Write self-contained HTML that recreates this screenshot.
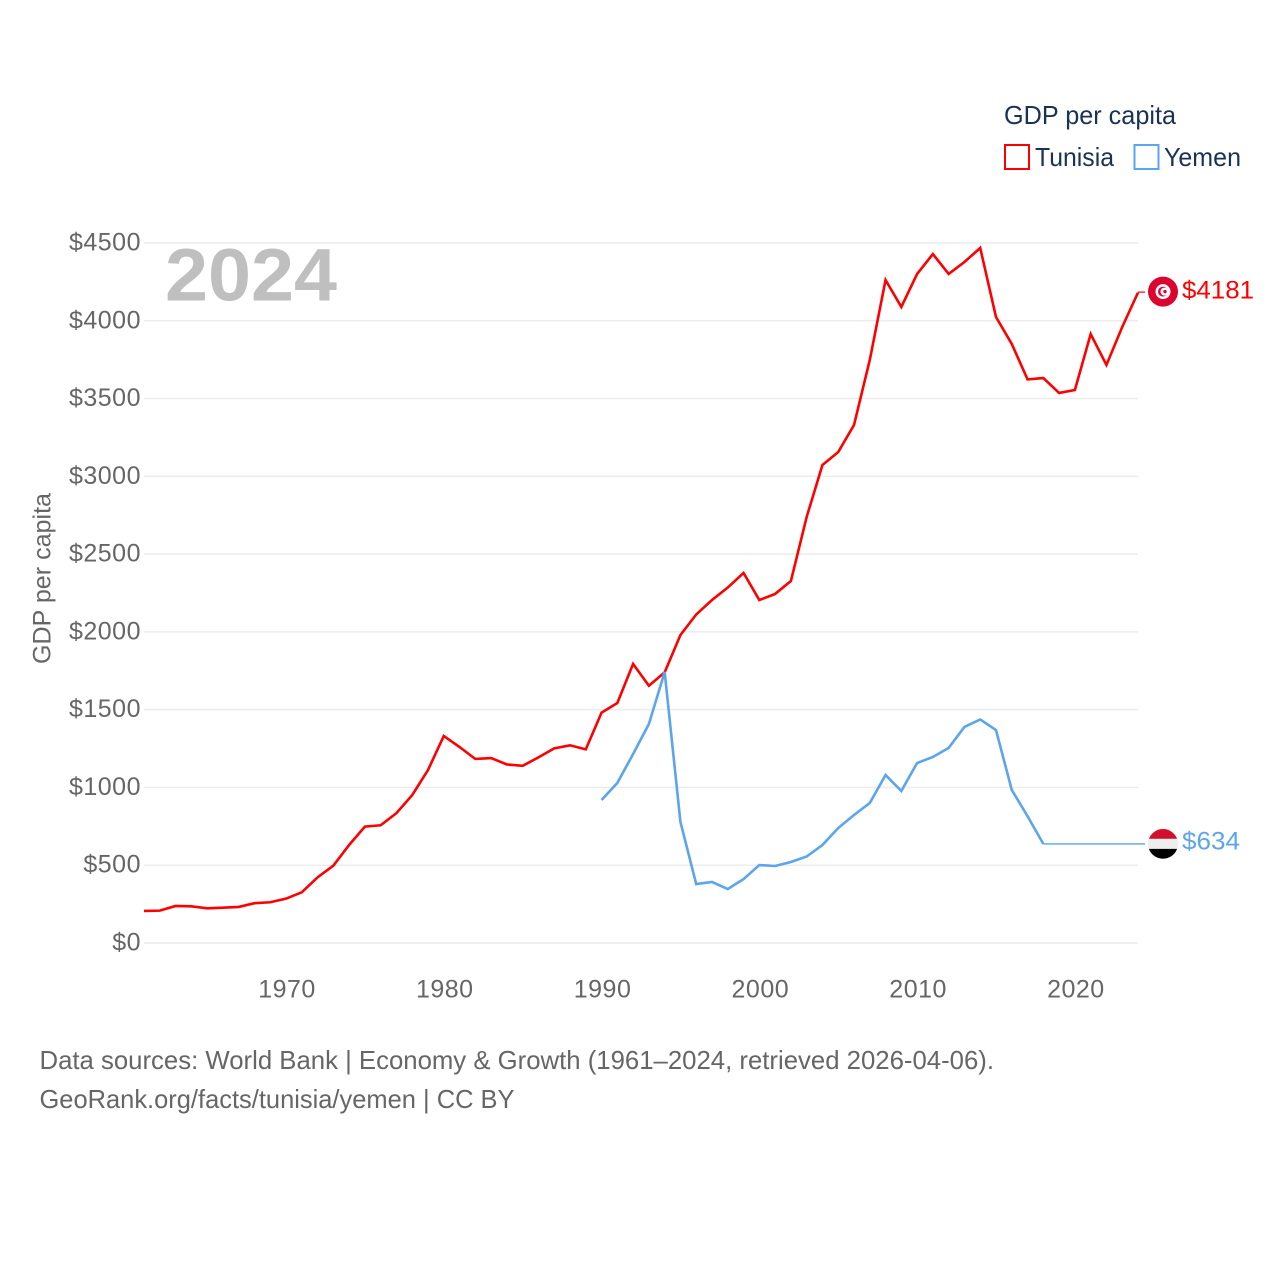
<!DOCTYPE html>
<html lang="en">
<head>
<meta charset="utf-8">
<title>GDP per capita: Tunisia and Yemen</title>
<style>
html,body{margin:0;padding:0;background:#fff;}
svg{display:block;font-family:"Liberation Sans",sans-serif;}
.tick{font-size:25px;fill:#666;letter-spacing:.5px;}
.foot{font-size:26px;fill:#666;}
.leg{font-size:26px;fill:#1a3355;}
</style>
</head>
<body>
<svg id="chart" width="1280" height="1280" viewBox="0 0 1280 1280" xmlns="http://www.w3.org/2000/svg">
  <rect width="1280" height="1280" fill="#fff"/>
  <g id="grid"></g>
  <g id="yticks"></g>
  <g id="xticks"></g>
  <text x="165" y="300.500" font-size="74" font-weight="700" fill="#bfbfbf" textLength="172" lengthAdjust="spacingAndGlyphs">2024</text>
  <text transform="translate(50.500,664) rotate(-90)" font-size="25" fill="#666" textLength="171" lengthAdjust="spacingAndGlyphs">GDP per capita</text>
  <g id="series"></g>
  <g id="end-markers"></g>

  <g>
    <text class="leg" x="1004" y="124" textLength="172" lengthAdjust="spacingAndGlyphs">GDP per capita</text>
    <g>
      <rect x="1005" y="145" width="24" height="24" fill="none" stroke="#ff0000" stroke-width="2"/>
      <text class="leg" x="1035" y="166" textLength="79" lengthAdjust="spacingAndGlyphs">Tunisia</text>
    </g>
    <g>
      <rect x="1134.500" y="145" width="24" height="24" fill="none" stroke="#5ba5ec" stroke-width="2"/>
      <text class="leg" x="1164" y="166" textLength="77" lengthAdjust="spacingAndGlyphs">Yemen</text>
    </g>
  </g>

  <g>
    <text class="foot" x="39.500" y="1069" textLength="954.500" lengthAdjust="spacingAndGlyphs">Data sources: World Bank | Economy &amp; Growth (1961–2024, retrieved 2026-04-06).</text>
    <text class="foot" x="39.500" y="1108" textLength="475" lengthAdjust="spacingAndGlyphs">GeoRank.org/facts/tunisia/yemen | CC BY</text>
  </g>
</svg>
<script>
const tunisiaStartYear = 1961;
const tunisiaValues = [206, 208, 238, 236, 223, 227, 232, 256, 262, 285, 326, 422, 497, 630, 748, 757, 835, 951, 1112, 1331, 1260, 1183, 1189, 1148, 1139, 1193, 1251, 1271, 1245, 1481, 1543, 1794, 1654, 1740, 1980, 2112, 2205, 2285, 2379, 2205, 2244, 2327, 2739, 3073, 3156, 3330, 3748, 4262, 4089, 4301, 4429, 4301, 4378, 4468, 4024, 3851, 3623, 3632, 3536, 3555, 3915, 3716, 3960, 4181];
const yemenStartYear = 1990;
const yemenValues = [919, 1029, 1215, 1408, 1742, 778, 379, 392, 347, 411, 501, 495, 521, 556, 630, 739, 823, 900, 1080, 977, 1157, 1196, 1254, 1389, 1437, 1369, 984, 815, 637];
const yemenLatestValue = 634;
const tunisiaLatestValue = 4181;
const connectorEndYear = 2024.45;
const yTickValues = [0, 500, 1000, 1500, 2000, 2500, 3000, 3500, 4000, 4500];
const yTickLabels = ["$0", "$500", "$1000", "$1500", "$2000", "$2500", "$3000", "$3500", "$4000", "$4500"];
const xTickValues = [1970, 1980, 1990, 2000, 2010, 2020];
const xTickLabels = ["1970", "1980", "1990", "2000", "2010", "2020"];

const NS = "http://www.w3.org/2000/svg";
function xScale(year) { return 144 + (year - 1961) * (1138 - 144) / (2024 - 1961); }
function yScale(value) { return 943 - value * (943 - 243) / 4500; }
function make(tag, attrs, parent) {
  const el = document.createElementNS(NS, tag);
  for (const k in attrs) el.setAttribute(k, attrs[k]);
  parent.appendChild(el);
  return el;
}
function linePoints(startYear, values) {
  return values.map((v, i) => xScale(startYear + i).toFixed(2) + "," + yScale(v).toFixed(2)).join(" ");
}

const gridGroup = document.getElementById("grid");
const yGroup = document.getElementById("yticks");
const xGroup = document.getElementById("xticks");
const seriesGroup = document.getElementById("series");
const markerGroup = document.getElementById("end-markers");

yTickValues.forEach((v, i) => {
  const g = make("line", {x1: 144, x2: 1138, y1: yScale(v), y2: yScale(v), stroke: "#ececec", "stroke-width": 1.5}, gridGroup);
  
  
  const t = make("text", {class: "tick", x: 141, y: yScale(v) + 7.5, "text-anchor": "end"}, yGroup);
  
  
  t.textContent = yTickLabels[i];
});

xTickValues.forEach((v, i) => {
  const t = make("text", {class: "tick", x: xScale(v) + 1, y: 997.5, "text-anchor": "middle"}, xGroup);
  
  
  t.textContent = xTickLabels[i];
});

const tunisiaLine = make("polyline", {points: linePoints(tunisiaStartYear, tunisiaValues), fill: "none", stroke: "#ff0000", "stroke-width": 2.6, "stroke-linejoin": "miter"}, seriesGroup);



const tunisiaLastYear = tunisiaStartYear + tunisiaValues.length - 1;
const tunisiaConnector = make("line", {x1: xScale(tunisiaLastYear), x2: xScale(connectorEndYear), y1: yScale(tunisiaLatestValue) - 0.5, y2: yScale(tunisiaLatestValue) - 0.5, stroke: "#ff0000", "stroke-width": 1.2}, seriesGroup);



const yemenLine = make("polyline", {points: linePoints(yemenStartYear, yemenValues), fill: "none", stroke: "#5ba5ec", "stroke-width": 2.6, "stroke-linejoin": "miter"}, seriesGroup);



const yemenLastYear = yemenStartYear + yemenValues.length - 1;
const yemenConnector = make("line", {x1: xScale(yemenLastYear), x2: xScale(connectorEndYear), y1: yScale(yemenValues[yemenValues.length - 1]), y2: yScale(yemenValues[yemenValues.length - 1]), stroke: "#5ba5ec", "stroke-width": 1.4}, seriesGroup);



const flagX = 1163;
const ty = yScale(tunisiaLatestValue) - 1;
const tf = make("g", {transform: "translate(" + flagX + "," + ty + ")"}, markerGroup);


make("circle", {r: 15, fill: "#dc0530"}, tf);
make("circle", {r: 7.500, fill: "#fff"}, tf);
make("circle", {r: 5, fill: "#dc0530"}, tf);
make("circle", {cx: 1.500, r: 4, fill: "#fff"}, tf);
make("circle", {cx: 2, r: 1.700, fill: "#dc0530"}, tf);

const yy = yScale(yemenLatestValue) - 0.5;
const yf = make("g", {transform: "translate(" + flagX + "," + yy + ")"}, markerGroup);


make("path", {d: "M-14.100 -5 A15 15 0 0 1 14.100 -5 Z", fill: "#d20f2c"}, yf);
make("path", {d: "M-14.100 -5 H14.100 A15 15 0 0 1 14.100 5 H-14.100 A15 15 0 0 1 -14.100 -5 Z", fill: "#eeeeee"}, yf);
make("path", {d: "M-14.100 5 A15 15 0 0 0 14.100 5 Z", fill: "#000"}, yf);

const tl = make("text", {x: 1182, y: yScale(tunisiaLatestValue) + 6, "font-size": 25, fill: "#ff0000", textLength: 72, lengthAdjust: "spacingAndGlyphs"}, markerGroup);


tl.textContent = "$" + tunisiaLatestValue;

const yl = make("text", {x: 1182, y: yScale(yemenLatestValue) + 5, "font-size": 25, fill: "#5ba5ec", textLength: 58, lengthAdjust: "spacingAndGlyphs"}, markerGroup);


yl.textContent = "$" + yemenLatestValue;
</script>
</body>
</html>
